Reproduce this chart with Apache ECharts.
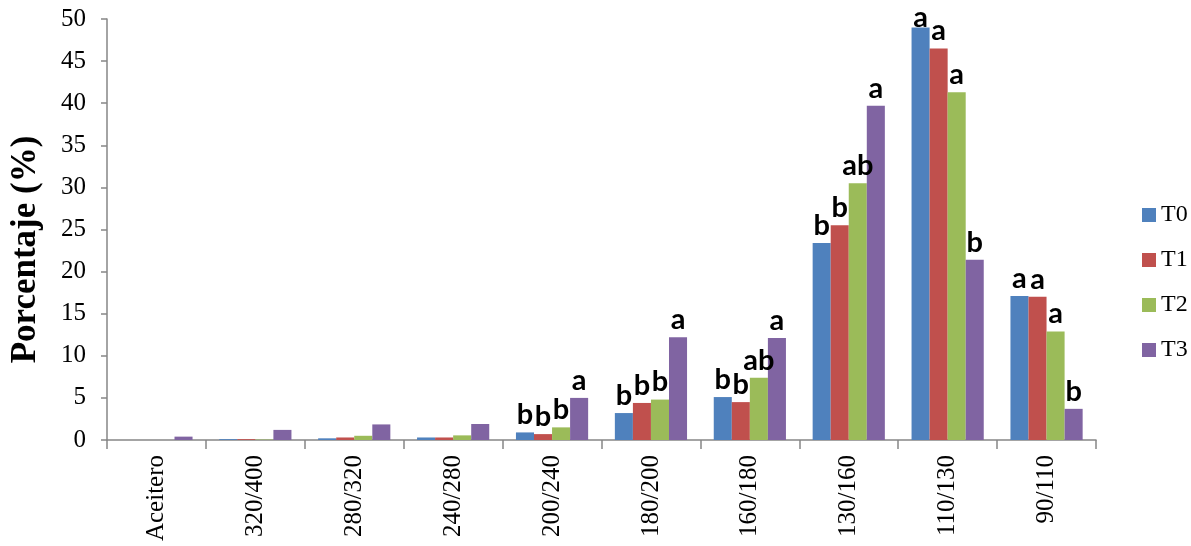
<!DOCTYPE html>
<html>
<head>
<meta charset="utf-8">
<script src="https://cdn.jsdelivr.net/npm/echarts@6/dist/echarts.min.js"></script>
<style>
  html, body { margin: 0; padding: 0; background: #fff; }
  #chart { width: 1191px; height: 546px; }
</style>
</head>
<body>
<div id="chart"></div>
<script>
// Size classes (categories along the x axis)
const categories = ['Aceitero', '320/400', '280/320', '240/280', '200/240', '180/200', '160/180', '130/160', '110/130', '90/110'];

// Percentage per class and treatment
const seriesNames = ['T0', 'T1', 'T2', 'T3'];
const t0 = [0, 0.1, 0.2, 0.3, 0.9, 3.2, 5.1, 23.4, 49.0, 17.1];
const t1 = [0, 0.1, 0.3, 0.3, 0.7, 4.4, 4.5, 25.5, 46.5, 17.0];
const t2 = [0, 0.05, 0.5, 0.55, 1.5, 4.8, 7.4, 30.5, 41.3, 12.9];
const t3 = [0.4, 1.2, 1.85, 1.9, 5.0, 12.2, 12.1, 39.7, 21.4, 3.7];

// Significance letters shown above bars
const t0Letters = ['', '', '', '', 'b', 'b', 'b', 'b', 'a', 'a'];
const t1Letters = ['', '', '', '', 'b', 'b', 'b', 'b', 'a', 'a'];
const t2Letters = ['', '', '', '', 'b', 'b', 'ab', 'ab', 'a', 'a'];
const t3Letters = ['', '', '', '', 'a', 'a', 'a', 'a', 'b', 'b'];

// Y axis scale
const yMin = 0, yMax = 50, yStep = 5;

const colors = ['#4F81BD', '#C0504D', '#9BBB59', '#8064A2'];
const values = [t0, t1, t2, t3];
const letters = [t0Letters, t1Letters, t2Letters, t3Letters];

const axisGray = '#868686';
const serif = 'Liberation Serif';

const chart = echarts.init(document.getElementById('chart'), null, { renderer: 'canvas' });

const series = seriesNames.map((name, s) => ({
  name: name,
  type: 'bar',
  barGap: '0%',
  barCategoryGap: '27%',
  itemStyle: { color: colors[s] },
  data: values[s].map((v, i) => ({
    value: v,
    letter: letters[s][i],
    // keep letters of the tallest bars inside the plot area
    label: v > yMax - 3 ? { distance: -5 } : undefined
  })),
  label: {
    show: true,
    position: 'top',
    distance: 3,
    fontFamily: 'Lato',
    fontWeight: 'bold',
    fontSize: 29,
    color: '#000',
    formatter: p => p.data.letter
  }
}));

chart.setOption({
  animation: false,
  color: colors,
  grid: { left: 106, right: 95, top: 19, bottom: 106, containLabel: false },
  legend: {
    orient: 'vertical',
    left: 1137,
    top: 198,
    itemWidth: 14,
    itemHeight: 14,
    itemGap: 21,
    icon: 'rect',
    textStyle: { fontFamily: serif, fontSize: 24, color: '#000', lineHeight: 24 },
    data: seriesNames
  },
  xAxis: {
    type: 'category',
    data: categories,
    axisLine: { lineStyle: { color: axisGray, width: 1.5 } },
    axisTick: { show: true, length: 9, lineStyle: { color: axisGray, width: 1.5 } },
    axisLabel: {
      rotate: 90,
      margin: 15,
      interval: 0,
      fontFamily: serif,
      fontSize: 25,
      color: '#000'
    },
    splitLine: { show: false }
  },
  yAxis: {
    type: 'value',
    min: yMin,
    max: yMax,
    interval: yStep,
    name: 'Porcentaje (%)',
    nameLocation: 'middle',
    nameGap: 64,
    nameTextStyle: {
      fontFamily: serif, fontWeight: 'bold', fontSize: 35, color: '#000',
      padding: [0, 40, 0, 0]
    },
    axisLine: { show: true, lineStyle: { color: axisGray, width: 1.5 } },
    axisTick: { show: true, length: 6, lineStyle: { color: axisGray, width: 1.5 } },
    axisLabel: { fontFamily: serif, fontSize: 25, color: '#000', margin: 21 },
    splitLine: { show: false }
  },
  series: series
});
</script>
</body>
</html>
